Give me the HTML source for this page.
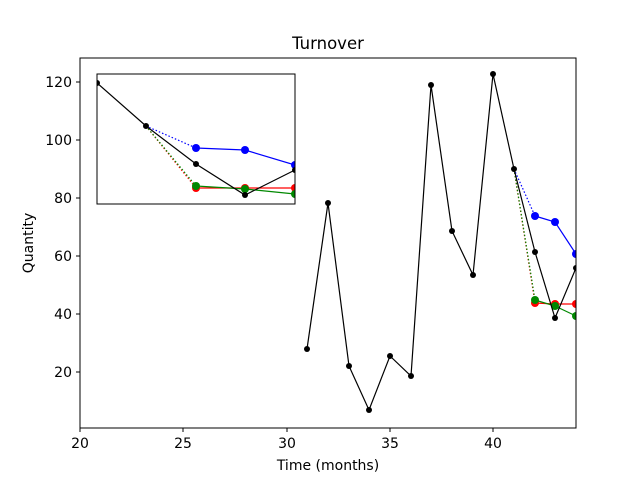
<!DOCTYPE html>
<html><head><meta charset="utf-8"><style>body{margin:0;background:#fff}svg{display:block}</style></head><body>
<svg width="640" height="480" xmlns="http://www.w3.org/2000/svg" font-family="DejaVu Sans, Liberation Sans, sans-serif">
<rect width="640" height="480" fill="#fff"/>
<defs><clipPath id="c"><rect x="80" y="58" width="496" height="370"/></clipPath>
<clipPath id="ci"><rect x="97" y="74" width="198" height="130"/></clipPath></defs>
<g clip-path="url(#c)">
<polyline fill="none" stroke="#00f" stroke-width="1.2" stroke-dasharray="1.5,2" points="514,169 535,216"/>
<polyline fill="none" stroke="#00f" stroke-width="1.2" points="535,216 555,222 576,254"/>
<polyline fill="none" stroke="#f00" stroke-width="1.2" stroke-dasharray="1.5,2" points="514,169 535,303"/>
<polyline fill="none" stroke="#f00" stroke-width="1.2" points="535,303 555,304 576,304"/>
<polyline fill="none" stroke="#080" stroke-width="1.2" stroke-dasharray="1.5,2" points="514,169 535,300"/>
<polyline fill="none" stroke="#080" stroke-width="1.2" points="535,300 555,306 576,316"/>
<g fill="#00f"><circle cx="535" cy="216" r="4"/><circle cx="555" cy="222" r="4"/><circle cx="576" cy="254" r="4"/></g>
<g fill="#f00"><circle cx="535" cy="303" r="4"/><circle cx="555" cy="304" r="4"/><circle cx="576" cy="304" r="4"/></g>
<g fill="#080"><circle cx="535" cy="300" r="4"/><circle cx="555" cy="306" r="4"/><circle cx="576" cy="316" r="4"/></g>
<polyline fill="none" stroke="#000" stroke-width="1.2" points="307,349 328,203 349,366 369,410 390,356 411,376 431,85 452,231 473,275 493,74 514,169 535,252 555,318 576,268"/>
<g fill="#000"><circle cx="307" cy="349" r="3"/><circle cx="328" cy="203" r="3"/><circle cx="349" cy="366" r="3"/><circle cx="369" cy="410" r="3"/><circle cx="390" cy="356" r="3"/><circle cx="411" cy="376" r="3"/><circle cx="431" cy="85" r="3"/><circle cx="452" cy="231" r="3"/><circle cx="473" cy="275" r="3"/><circle cx="493" cy="74" r="3"/><circle cx="514" cy="169" r="3"/><circle cx="535" cy="252" r="3"/><circle cx="555" cy="318" r="3"/><circle cx="576" cy="268" r="3"/></g>
</g>
<rect x="80" y="58" width="496" height="370" fill="none" stroke="#000" stroke-width="1"/>
<g stroke="#000"><line x1="80" y1="428" x2="80" y2="432"/><line x1="183" y1="428" x2="183" y2="432"/><line x1="287" y1="428" x2="287" y2="432"/><line x1="390" y1="428" x2="390" y2="432"/><line x1="493" y1="428" x2="493" y2="432"/>
<line x1="76" y1="82" x2="80" y2="82"/><line x1="76" y1="140" x2="80" y2="140"/><line x1="76" y1="198" x2="80" y2="198"/><line x1="76" y1="256" x2="80" y2="256"/><line x1="76" y1="314" x2="80" y2="314"/><line x1="76" y1="372" x2="80" y2="372"/></g>
<g font-size="14" fill="#000" text-anchor="middle"><text x="80" y="448">20</text><text x="183" y="448">25</text><text x="287" y="448">30</text><text x="390" y="448">35</text><text x="493" y="448">40</text></g>
<g font-size="14" fill="#000" text-anchor="end"><text x="72" y="87">120</text><text x="72" y="145">100</text><text x="72" y="203">80</text><text x="72" y="261">60</text><text x="72" y="319">40</text><text x="72" y="377">20</text></g>
<text x="328" y="470" font-size="14" text-anchor="middle">Time (months)</text>
<text x="33" y="243" font-size="14" text-anchor="middle" transform="rotate(-90 33 243)">Quantity</text>
<text x="328" y="49" font-size="16.5" text-anchor="middle">Turnover</text>
<rect x="97" y="74" width="198" height="130" fill="#fff"/>
<g clip-path="url(#ci)">
<polyline fill="none" stroke="#00f" stroke-width="1.2" stroke-dasharray="1.5,2" points="146,126 196,148"/>
<polyline fill="none" stroke="#00f" stroke-width="1.2" points="196,148 245,150 295,165"/>
<polyline fill="none" stroke="#f00" stroke-width="1.2" stroke-dasharray="1.5,2" points="146,126 196,188"/>
<polyline fill="none" stroke="#f00" stroke-width="1.2" points="196,188 245,188 295,188"/>
<polyline fill="none" stroke="#080" stroke-width="1.2" stroke-dasharray="1.5,2" points="146,126 196,186"/>
<polyline fill="none" stroke="#080" stroke-width="1.2" points="196,186 245,189 295,194"/>
<g fill="#00f"><circle cx="196" cy="148" r="4"/><circle cx="245" cy="150" r="4"/><circle cx="295" cy="165" r="4"/></g>
<g fill="#f00"><circle cx="196" cy="188" r="4"/><circle cx="245" cy="188" r="4"/><circle cx="295" cy="188" r="4"/></g>
<g fill="#080"><circle cx="196" cy="186" r="4"/><circle cx="245" cy="189" r="4"/><circle cx="295" cy="194" r="4"/></g>
<polyline fill="none" stroke="#000" stroke-width="1.2" points="97,83 146,126 196,164 245,195 295,170"/>
<g fill="#000"><circle cx="97" cy="83" r="3"/><circle cx="146" cy="126" r="3"/><circle cx="196" cy="164" r="3"/><circle cx="245" cy="195" r="3"/><circle cx="295" cy="170" r="3"/></g>
</g>
<rect x="97" y="74" width="198" height="130" fill="none" stroke="#000" stroke-width="1"/>
</svg>
</body></html>
